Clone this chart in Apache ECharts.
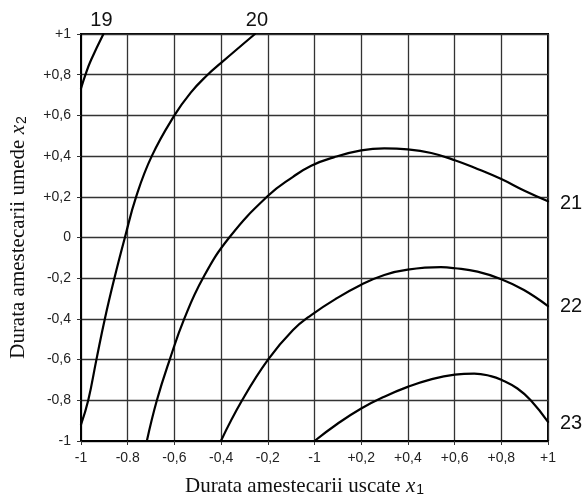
<!DOCTYPE html>
<html><head><meta charset="utf-8">
<script src="https://cdn.jsdelivr.net/npm/echarts@6/dist/echarts.min.js"></script>
<style>html,body{margin:0;padding:0;background:#fff}#c{width:585px;height:502px}</style>
</head><body><div id="c"></div>
<script>
// tick labels (as printed in the original)
const xTickLabels = ['-1','-0.8','-0,6','-0,4','-0,2','-1','+0,2','+0,4','+0,6','+0,8','+1'];
const yTickLabels = ['-1','-0,8','-0,6','-0,4','-0,2','0','+0,2','+0,4','+0,6','+0,8','+1'];
const contourLevels = ['19','20','21','22','23'];
// contour lines [x1, x2]
const c19 = [[-1,0.733],[-0.979,0.807],[-0.957,0.872],[-0.904,1]];
const c20 = [[-1,-0.92],[-0.969,-0.8],[-0.934,-0.6],[-0.898,-0.4],[-0.857,-0.2],[-0.812,0],[-0.764,0.2],[-0.697,0.4],[-0.6,0.6],[-0.53,0.712],[-0.462,0.795],[-0.4,0.858],[-0.255,1]];
const c21 = [[-0.718,-1],[-0.675,-0.8],[-0.62,-0.6],[-0.558,-0.4],[-0.478,-0.2],[-0.365,0],[-0.199,0.205],[-0.092,0.298],[-0.014,0.353],[0.085,0.395],[0.2,0.428],[0.299,0.438],[0.399,0.433],[0.5,0.415],[0.601,0.38],[0.698,0.337],[0.8,0.287],[0.897,0.231],[1,0.178]];
const c22 = [[-0.401,-1],[-0.31,-0.8],[-0.199,-0.6],[-0.092,-0.455],[-0.014,-0.381],[0.093,-0.3],[0.2,-0.232],[0.299,-0.184],[0.399,-0.158],[0.541,-0.146],[0.601,-0.151],[0.698,-0.168],[0.8,-0.205],[0.897,-0.258],[1,-0.337]];
const c23 = [[0,-1],[0.1,-0.914],[0.2,-0.84],[0.299,-0.782],[0.399,-0.734],[0.499,-0.697],[0.601,-0.674],[0.684,-0.669],[0.755,-0.681],[0.8,-0.699],[0.869,-0.742],[0.926,-0.8],[1,-0.906]];
const curves = [c19,c20,c21,c22,c23];
const labelOffsets = [[-2,-14],[2,-14],[12,2],[12,0],[12,2]];
const labelAligns = ['center','center','left','left','left'];

function idx(v){return Math.round((v+1)/0.2);}
const chart = echarts.init(document.getElementById('c'),null,{renderer:'canvas'});
const axisLabelFont = {fontFamily:'Liberation Sans', fontSize:14, color:'#222'};
const nameRich = {
  t:{fontFamily:'Liberation Serif', fontSize:21, color:'#111', lineHeight:26, verticalAlign:'bottom'},
  i:{fontFamily:'Liberation Serif', fontStyle:'italic', fontSize:21, color:'#111', lineHeight:26, verticalAlign:'bottom'},
  s:{fontFamily:'Liberation Sans', fontSize:14, color:'#111', lineHeight:14, verticalAlign:'bottom', padding:[0,0,0,1]}
};
chart.setOption({
  animation:false,
  grid:{left:78,right:37,top:34,bottom:58,show:true,borderColor:'#000',borderWidth:2,backgroundColor:'transparent'},
  xAxis:{type:'value',min:-1,max:1,interval:0.2,
    name:'{t|Durata amestecarii uscate }{i|x}{s|1}',nameLocation:'middle',nameGap:30,
    nameTextStyle:{rich:nameRich,padding:[0,20,0,0]},
    axisLine:{show:true,onZero:false,lineStyle:{color:'#000',width:2}},
    axisTick:{show:true,length:4,lineStyle:{color:'#333'}},
    axisLabel:Object.assign({margin:10,formatter:v=>xTickLabels[idx(v)]},axisLabelFont),
    splitLine:{show:true,lineStyle:{color:'#333',width:1.3}}},
  yAxis:{type:'value',min:-1,max:1,interval:0.2,
    name:'{t|Durata amestecarii umede }{i|x}{s|2}',nameLocation:'middle',nameGap:52,nameRotate:90,
    nameTextStyle:{rich:nameRich,padding:[0,0,0,0]},
    axisLine:{show:true,onZero:false,lineStyle:{color:'#000',width:2}},
    axisTick:{show:true,length:4,lineStyle:{color:'#333'}},
    axisLabel:Object.assign({margin:10,formatter:v=>yTickLabels[idx(v)]},axisLabelFont),
    splitLine:{show:true,lineStyle:{color:'#333',width:1.3}}},
  series: curves.map((d,k)=>({
    name:contourLevels[k],type:'line',data:d,smooth:0.45,showSymbol:false,
    lineStyle:{color:'#000',width:2.2,join:'round',cap:'round'},clip:true,
    endLabel:{show:true,formatter:'{a}',fontFamily:'Liberation Sans',fontSize:20,color:'#111',
      distance:0,offset:labelOffsets[k],align:labelAligns[k],verticalAlign:'middle'}
  }))
});
</script></body></html>
